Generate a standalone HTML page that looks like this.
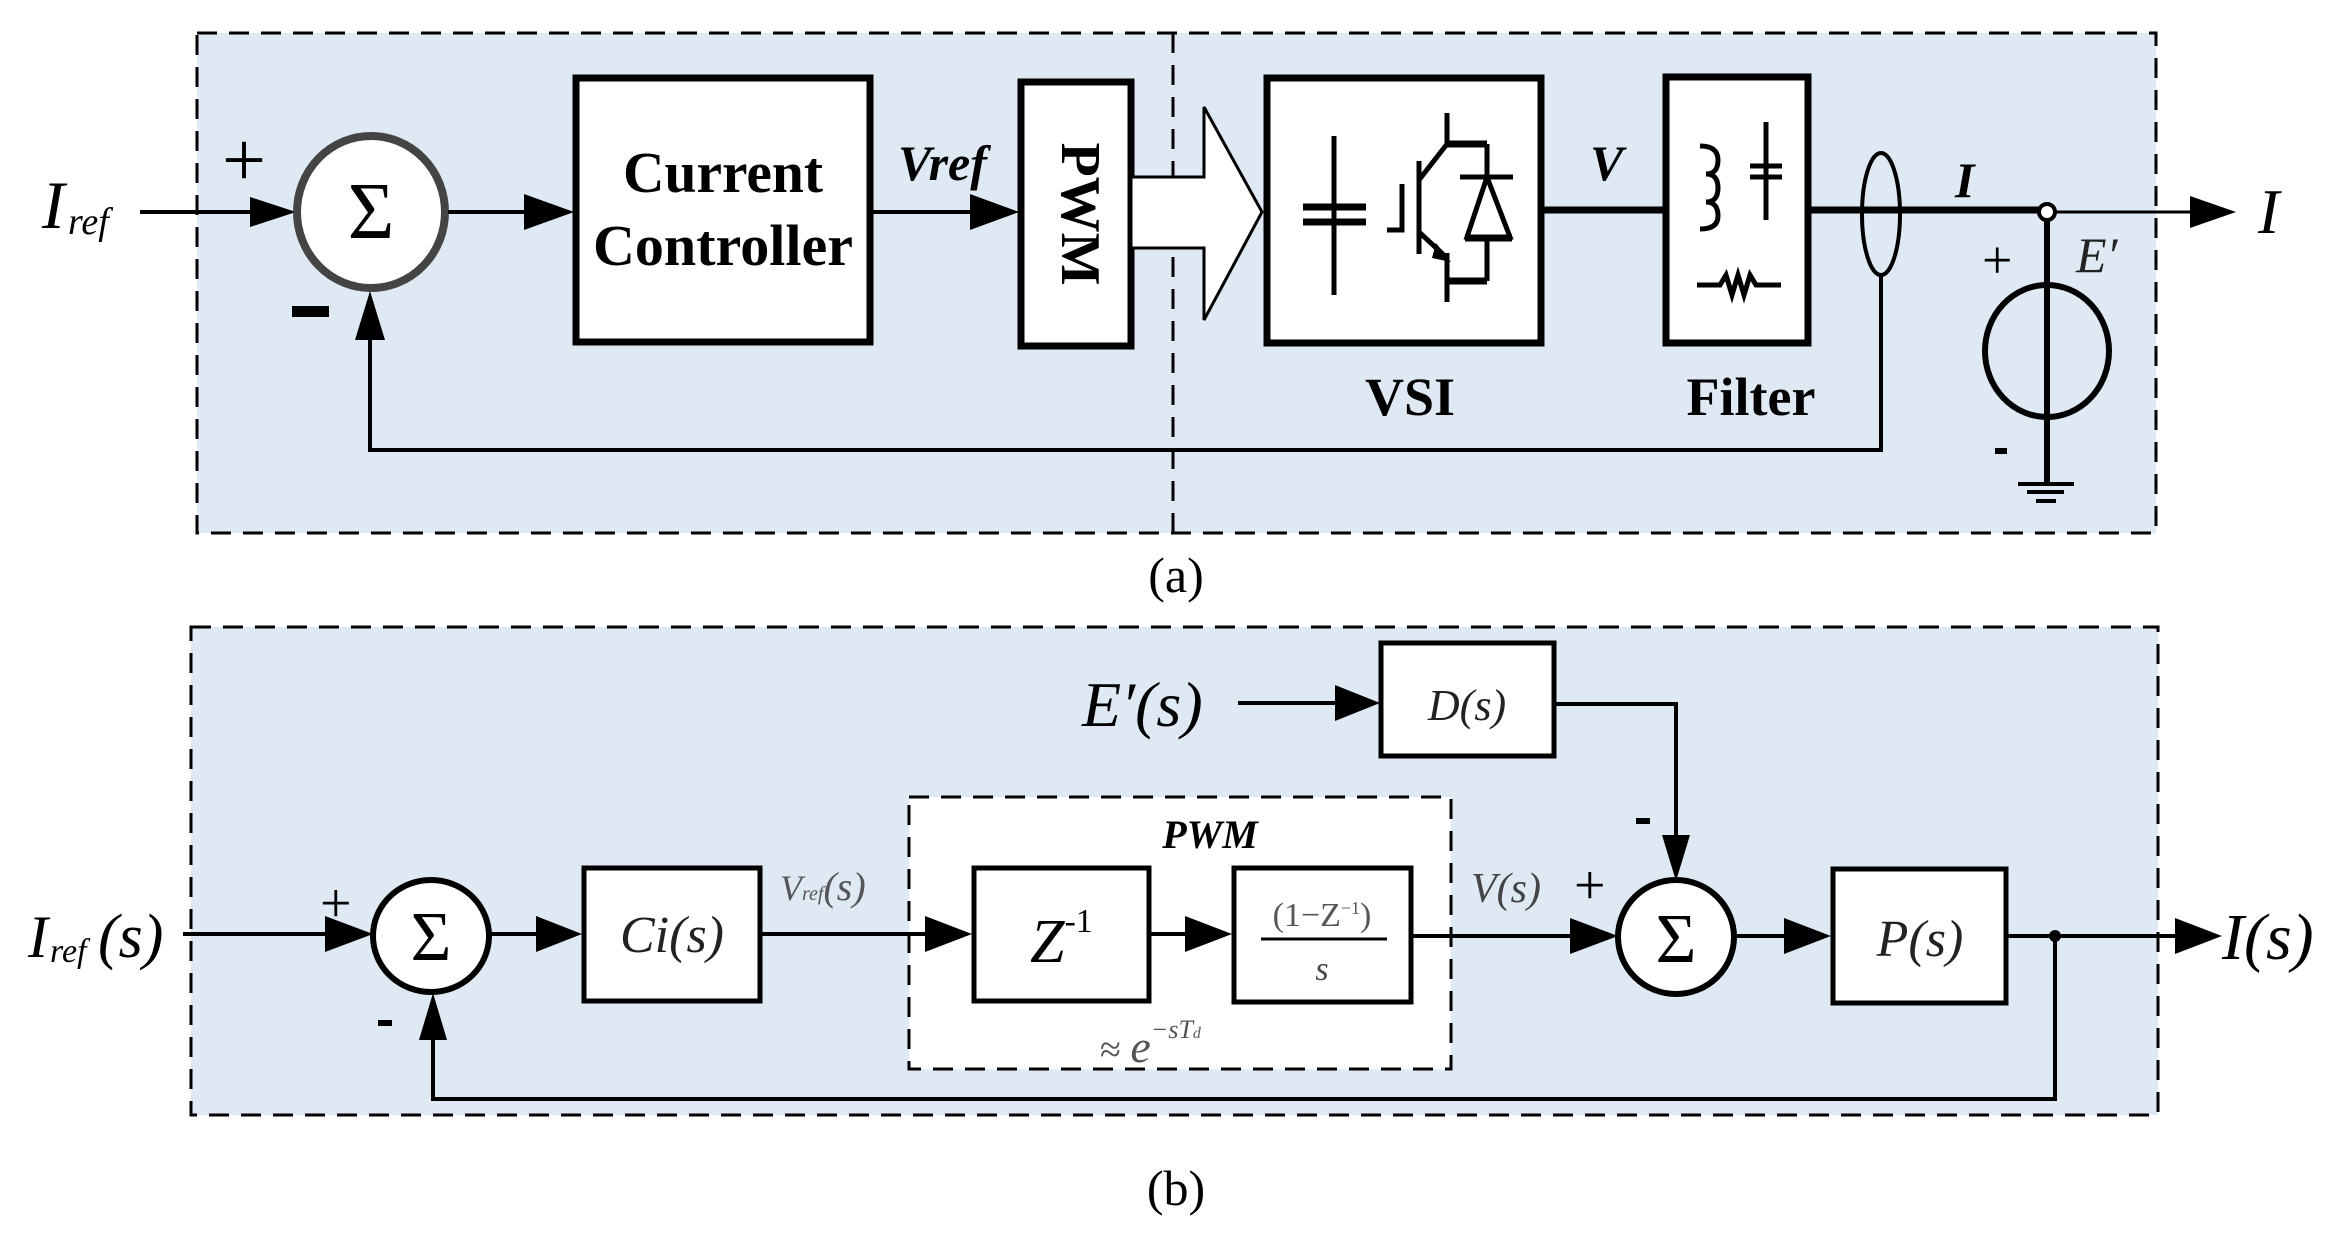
<!DOCTYPE html>
<html><head><meta charset="utf-8"><style>
html,body{margin:0;padding:0;background:#fff;}
svg{display:block;}
text{font-family:"Liberation Serif",serif;}
</style></head><body>
<svg width="2351" height="1237" viewBox="0 0 2351 1237" xmlns="http://www.w3.org/2000/svg">
<!-- Panel a -->
<rect x="197" y="33" width="1959" height="500" fill="#dfe9f3" stroke="#000" stroke-width="3" stroke-dasharray="20,12"/>
<line x1="1173" y1="33" x2="1173" y2="533" stroke="#000" stroke-width="3" stroke-dasharray="20,12"/>
<text x="42" y="228" font-size="68" font-style="italic">I</text>
<text x="68" y="234" font-size="38" font-style="italic">ref</text>
<line x1="140" y1="212" x2="250" y2="212" stroke="#000" stroke-width="4"/>
<path d="M250,197 L296,212 L250,227 z"/>
<text x="222" y="186" font-size="78" font-family="Liberation Sans">+</text>
<rect x="292" y="306" width="37" height="11"/>
<ellipse cx="371" cy="212" rx="74" ry="76" fill="#fff" stroke="#444" stroke-width="8"/>
<text x="371" y="238" font-size="80" text-anchor="middle">Σ</text>
<line x1="448" y1="212" x2="530" y2="212" stroke="#000" stroke-width="4"/>
<path d="M524,194 L574,212 L524,230 z"/>
<rect x="576" y="78" width="294" height="264" fill="#fff" stroke="#000" stroke-width="7"/>
<text x="723" y="192" font-size="58" font-weight="bold" text-anchor="middle" textLength="200" lengthAdjust="spacingAndGlyphs">Current</text>
<text x="723" y="265" font-size="58" font-weight="bold" text-anchor="middle" textLength="260" lengthAdjust="spacingAndGlyphs">Controller</text>
<text x="898" y="180" font-size="50" font-weight="bold" font-style="italic">Vref</text>
<line x1="872" y1="212" x2="975" y2="212" stroke="#000" stroke-width="4"/>
<path d="M970,194 L1019,212 L970,230 z"/>
<rect x="1021" y="82" width="110" height="264" fill="#fff" stroke="#000" stroke-width="7"/>
<text transform="translate(1062,214) rotate(90)" font-size="56" font-weight="bold" text-anchor="middle">PWM</text>
<path d="M1131,177 L1204,177 L1204,107 L1262,212 L1204,320 L1204,248 L1131,248 z" fill="#fff" stroke="#000" stroke-width="3"/>
<!-- VSI -->
<rect x="1267" y="78" width="274" height="265" fill="#fff" stroke="#000" stroke-width="7"/>
<g stroke="#000" stroke-width="5" fill="none">
<line x1="1334" y1="136" x2="1334" y2="295"/>
<line x1="1303" y1="207" x2="1366" y2="207" stroke-width="7"/>
<line x1="1303" y1="222" x2="1366" y2="222" stroke-width="7"/>
<line x1="1447" y1="113" x2="1447" y2="144"/>
<line x1="1447" y1="144" x2="1487" y2="144" stroke-width="7"/>
<line x1="1419" y1="161" x2="1419" y2="254"/>
<line x1="1419" y1="180" x2="1447" y2="144"/>
<line x1="1419" y1="232" x2="1447" y2="258"/>
<line x1="1447" y1="253" x2="1447" y2="302"/>
<line x1="1447" y1="281" x2="1487" y2="281" stroke-width="7"/>
<polyline points="1387,230 1402,230 1402,184"/>
<line x1="1487" y1="144" x2="1487" y2="281"/>
<line x1="1460" y1="177" x2="1513" y2="177"/>
<path d="M1467,237 L1510,237 L1487,177 z" fill="#fff"/>
<line x1="1465" y1="238" x2="1512" y2="238" stroke-width="7"/>
</g>
<path d="M1436,243 L1451,262 L1432,258 z"/>
<line x1="1541" y1="210" x2="1666" y2="210" stroke="#000" stroke-width="7"/>
<text x="1590" y="180" font-size="50" font-weight="bold" font-style="italic">V</text>
<!-- Filter -->
<rect x="1666" y="77" width="142" height="266" fill="#fff" stroke="#000" stroke-width="7"/>
<g stroke="#000" stroke-width="5" fill="none">
<path d="M1700,146 Q1718,146 1718,160 Q1718,174 1706,174 Q1718,174 1718,188 Q1718,202 1706,202 Q1718,202 1718,216 Q1718,229 1700,229"/>
<line x1="1766" y1="122" x2="1766" y2="220"/>
<line x1="1750" y1="166" x2="1782" y2="166"/>
<line x1="1750" y1="177" x2="1782" y2="177"/>
<polyline points="1697,285 1720,285 1726,275 1732,295 1738,275 1744,295 1750,275 1756,285 1781,285"/>
</g>
<text x="1410" y="415" font-size="54" font-weight="bold" text-anchor="middle">VSI</text>
<text x="1751" y="415" font-size="54" font-weight="bold" text-anchor="middle">Filter</text>
<line x1="1808" y1="210" x2="2040" y2="210" stroke="#000" stroke-width="7"/>
<ellipse cx="1881" cy="214" rx="19" ry="61" fill="none" stroke="#000" stroke-width="4"/>
<polyline points="1881,275 1881,450 370,450 370,335" fill="none" stroke="#000" stroke-width="4"/>
<path d="M355,340 L370,291 L385,340 z"/>
<text x="1955" y="197" font-size="50" font-weight="bold" font-style="italic">I</text>
<line x1="2055" y1="212" x2="2195" y2="212" stroke="#000" stroke-width="3"/>
<path d="M2190,196 L2236,212 L2190,228 z"/>
<text x="2258" y="233" font-size="64" font-style="italic">I</text>
<line x1="2047" y1="218" x2="2047" y2="484" stroke="#000" stroke-width="6"/>
<ellipse cx="2047" cy="351" rx="62" ry="66" fill="none" stroke="#000" stroke-width="6"/>
<circle cx="2047" cy="212" r="8" fill="#fff" stroke="#000" stroke-width="4"/>
<text x="1982" y="278" font-size="54" font-family="Liberation Sans">+</text>
<rect x="1995" y="448" width="12" height="6"/>
<text x="2076" y="272" font-size="50" font-style="italic" fill="#222">E′</text>
<line x1="2018" y1="484" x2="2074" y2="484" stroke="#000" stroke-width="4"/>
<line x1="2027" y1="492" x2="2064" y2="492" stroke="#000" stroke-width="4"/>
<line x1="2036" y1="501" x2="2056" y2="501" stroke="#000" stroke-width="4"/>
<text x="1176" y="592" font-size="50" text-anchor="middle">(a)</text>

<!-- Panel b -->
<rect x="191" y="627" width="1967" height="488" fill="#dfe9f3" stroke="#000" stroke-width="3" stroke-dasharray="20,12"/>
<rect x="909" y="797" width="542" height="272" fill="#fff" stroke="#000" stroke-width="3" stroke-dasharray="20,12"/>
<text x="28" y="957" font-size="60" font-style="italic">I</text>
<text x="50" y="962" font-size="34" font-style="italic">ref</text>
<text x="98" y="957" font-size="62" font-style="italic">(s)</text>
<line x1="183" y1="934" x2="335" y2="934" stroke="#000" stroke-width="4"/>
<path d="M325,916 L373,934 L325,952 z"/>
<text x="320" y="922" font-size="56" font-family="Liberation Sans">+</text>
<rect x="378" y="1020" width="14" height="6"/>
<ellipse cx="431" cy="936" rx="58" ry="56" fill="#fff" stroke="#000" stroke-width="6"/>
<text x="431" y="960" font-size="70" text-anchor="middle">Σ</text>
<line x1="490" y1="934" x2="540" y2="934" stroke="#000" stroke-width="4"/>
<path d="M536,916 L582,934 L536,952 z"/>
<rect x="584" y="868" width="176" height="133" fill="#fff" stroke="#000" stroke-width="5"/>
<text x="672" y="952" font-size="52" font-style="italic" text-anchor="middle" fill="#222">Ci(s)</text>
<text x="780" y="900" font-size="36" font-style="italic" fill="#555">V<tspan font-size="20">ref</tspan><tspan font-size="40">(s)</tspan></text>
<line x1="760" y1="934" x2="930" y2="934" stroke="#000" stroke-width="4"/>
<path d="M925,916 L972,934 L925,952 z"/>
<rect x="974" y="868" width="175" height="133" fill="#fff" stroke="#000" stroke-width="5"/>
<text x="1030" y="962" font-size="62" font-style="italic">Z<tspan font-size="34" dy="-30" font-style="normal">-1</tspan></text>
<text x="1210" y="848" font-size="40" font-weight="bold" font-style="italic" text-anchor="middle">PWM</text>
<line x1="1149" y1="934" x2="1190" y2="934" stroke="#000" stroke-width="4"/>
<path d="M1185,916 L1232,934 L1185,952 z"/>
<rect x="1234" y="868" width="177" height="134" fill="#fff" stroke="#000" stroke-width="5"/>
<text x="1322" y="926" font-size="34" text-anchor="middle" fill="#555">(1−Z<tspan font-size="18" dy="-12">−1</tspan><tspan dy="12">)</tspan></text>
<line x1="1261" y1="939" x2="1387" y2="939" stroke="#000" stroke-width="3"/>
<text x="1322" y="980" font-size="34" font-style="italic" text-anchor="middle" fill="#444">s</text>
<text x="1100" y="1062" font-size="38" fill="#555">≈ <tspan font-style="italic" font-size="46">e</tspan><tspan font-size="26" font-style="italic" dy="-24">−sT</tspan><tspan font-size="16" font-style="italic">d</tspan></text>
<line x1="1411" y1="936" x2="1575" y2="936" stroke="#000" stroke-width="4"/>
<path d="M1570,918 L1618,936 L1570,954 z"/>
<text x="1471" y="902" font-size="42" font-style="italic" fill="#444">V(s)</text>
<text x="1574" y="904" font-size="56" font-family="Liberation Sans">+</text>
<text x="1082" y="726" font-size="64" font-style="italic">E′(s)</text>
<line x1="1238" y1="703" x2="1340" y2="703" stroke="#000" stroke-width="4"/>
<path d="M1335,685 L1380,703 L1335,721 z"/>
<rect x="1381" y="643" width="173" height="113" fill="#fff" stroke="#000" stroke-width="5"/>
<text x="1467" y="720" font-size="44" font-style="italic" text-anchor="middle" fill="#222">D(s)</text>
<polyline points="1554,704 1676,704 1676,840" fill="none" stroke="#000" stroke-width="4"/>
<path d="M1662,835 L1676,881 L1690,835 z"/>
<rect x="1636" y="818" width="14" height="6"/>
<ellipse cx="1676" cy="937" rx="58" ry="57" fill="#fff" stroke="#000" stroke-width="6"/>
<text x="1676" y="962" font-size="70" text-anchor="middle">Σ</text>
<line x1="1735" y1="936" x2="1790" y2="936" stroke="#000" stroke-width="4"/>
<path d="M1784,918 L1831,936 L1784,954 z"/>
<rect x="1833" y="869" width="173" height="134" fill="#fff" stroke="#000" stroke-width="5"/>
<text x="1920" y="956" font-size="52" font-style="italic" text-anchor="middle" fill="#222">P(s)</text>
<line x1="2006" y1="936" x2="2180" y2="936" stroke="#000" stroke-width="4"/>
<path d="M2175,918 L2222,936 L2175,954 z"/>
<circle cx="2055" cy="936" r="6"/>
<text x="2222" y="959" font-size="66" font-style="italic">I(s)</text>
<polyline points="2055,936 2055,1099 433,1099 433,1035" fill="none" stroke="#000" stroke-width="4"/>
<path d="M419,1040 L433,993 L447,1040 z"/>
<text x="1176" y="1205" font-size="50" text-anchor="middle">(b)</text>
</svg>
</body></html>
